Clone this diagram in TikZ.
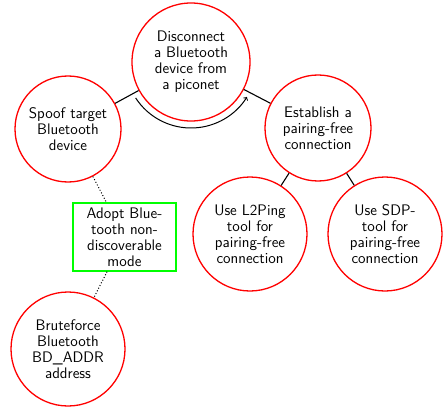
\documentclass[tikz,border=0pt]{standalone}
\usepackage{tikz}
\usetikzlibrary{calc}
\begin{document}
\begin{tikzpicture}[x=1pt,y=1pt,
  every node/.style={font=\sffamily\fontsize{15.3}{15.9}\selectfont, align=center, inner sep=0pt},
  task/.style={circle, draw=red, line width=1.3pt},
  leaf/.style={rectangle, draw=green, line width=1.3pt, minimum width=103pt, minimum height=68pt},
  link/.style={draw=black, line width=1.1pt},
  weak/.style={draw=black, line width=1pt, dotted}
]
\useasboundingbox (0,0) rectangle (443,410);

\node[task, minimum size=118pt] (dis) at (191,348) {Disconnect\\a Bluetooth\\device from\\a piconet};
\node[task, minimum size=106pt] (spoof) at (68,281) {Spoof target\\Bluetooth\\device};
\node[task, minimum size=106pt] (est) at (318,282) {Establish a\\pairing-free\\connection};
\node[leaf] (adopt) at (124.5,173) {Adopt Blue-\\tooth non-\\discoverable\\mode};
\node[task, minimum size=114pt] (brute) at (68,61) {Bruteforce\\Bluetooth\\BD\_ADDR\\address};
\node[task, minimum size=114pt] (l2) at (250,176) {Use L2Ping\\tool for\\pairing-free\\connection};
\node[task, minimum size=114pt] (sdp) at (385,176) {Use SDP-\\tool for\\pairing-free\\connection};

% solid links between the steps
\draw[link] (dis) -- (spoof);
\draw[link] (dis) -- (est);
\draw[link] (est) -- (l2);
\draw[link] (est) -- (sdp);

% dotted links to the optional steps
\draw[weak] (spoof) -- (adopt);
\draw[weak] (adopt) -- (brute);

% sequence arrow under the disconnect step
\coordinate (arcstart) at ($(dis.center)+(213:66)$);
\draw[line width=1pt, ->] (arcstart) arc[start angle=213, end angle=328, radius=66];
\end{tikzpicture}
\end{document}
